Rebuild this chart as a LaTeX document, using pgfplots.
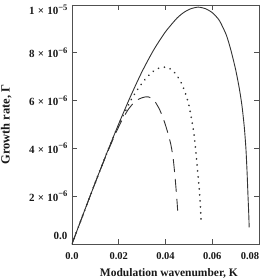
\documentclass[border=0pt]{standalone}
\usepackage{pgfplots}
\pgfplotsset{compat=1.18}
\usepackage{fontspec}
\setmainfont{Liberation Serif}
\definecolor{ln}{HTML}{333333}
\definecolor{ax}{HTML}{505050}
\newcommand{\sci}[2]{#1\hspace{3.2pt}×\hspace{3.2pt}10\raisebox{4.4pt}{\fontsize{8.5}{9}\selectfont −#2}}
\begin{document}
\begin{tikzpicture}
\path[use as bounding box] (-72pt,-35pt) rectangle (191pt,244pt);
\begin{axis}[
  at={(0,0)}, anchor=south west,
  scale only axis, width=187pt, height=239pt,
  xmin=0, xmax=0.08, ymin=0, ymax=1e-5,
  scaled x ticks=false, scaled y ticks=false,
  xtick={0,0.02,0.04,0.06,0.08},
  xticklabels={0.0,0.02,0.04,0.06,\kern-9pt 0.08\kern9pt},
  ytick={0,2e-6,4e-6,6e-6,8e-6,1e-5},
  yticklabels={\raisebox{4.5pt}[0pt][0pt]{0.0},\sci{2}{6},\sci{4}{6},\sci{6}{6},\sci{8}{6},\raisebox{-9.5pt}[0pt][0pt]{\sci{1}{5}}},
  tick align=inside, xtick pos=both, ytick pos=both,
  major tick length=5pt,
  axis line style={draw=ax, line width=0.8pt},
  tick style={draw=ax, line width=0.7pt},
  xticklabel style={font=\fontsize{10.5}{12}\selectfont\bfseries, text=black!90, yshift=-5pt},
  yticklabel style={font=\fontsize{11}{12}\selectfont\bfseries, text=black!90, xshift=-1pt},
  xlabel={Modulation wavenumber, K},
  ylabel={Growth rate, Γ},
  xlabel style={font=\fontsize{11.5}{13}\selectfont\bfseries, text=black!90, at={(axis description cs:0.518,-0.134)}, anchor=base},
  ylabel style={font=\fontsize{12.5}{14}\selectfont\bfseries, text=black!90, at={(axis description cs:-0.352,0.5)}, anchor=center},
]
% solid
\addplot[ln, line width=0.9pt, smooth, tension=0.4] coordinates {
(0,0) (0.005,1.30e-6) (0.010,2.58e-6) (0.015,3.83e-6) (0.020,5.03e-6) (0.025,6.17e-6)
(0.030,7.22e-6) (0.035,8.13e-6) (0.040,8.88e-6) (0.045,9.46e-6) (0.048,9.70e-6)
(0.051,9.85e-6) (0.054,9.91e-6) (0.057,9.85e-6) (0.060,9.68e-6) (0.063,9.36e-6)
(0.066,8.75e-6) (0.068,8.10e-6) (0.070,7.30e-6) (0.0715,6.55e-6) (0.0727,5.80e-6)
(0.0737,4.90e-6) (0.0744,4.00e-6) (0.0749,3.00e-6) (0.0753,2.00e-6) (0.0756,1.30e-6)
(0.0758,0.70e-6)
};
% dotted
\addplot[ln, line width=1.9pt, line cap=round, dash pattern=on 0.01pt off 6pt, smooth, tension=0.4] coordinates {
(0,0) (0.005,1.30e-6) (0.010,2.58e-6) (0.015,3.83e-6) (0.020,4.99e-6) (0.025,5.98e-6)
(0.028,6.46e-6) (0.031,6.86e-6) (0.034,7.17e-6) (0.037,7.35e-6) (0.040,7.40e-6)
(0.043,7.27e-6) (0.046,6.88e-6) (0.048,6.45e-6) (0.050,5.82e-6) (0.0512,5.20e-6)
(0.0522,4.60e-6) (0.0530,3.85e-6) (0.0537,3.10e-6) (0.0543,2.45e-6) (0.0548,1.80e-6)
(0.0552,1.05e-6)
};
% dashed
\addplot[ln, line width=0.9pt, dash pattern=on 13pt off 7pt, smooth, tension=0.4] coordinates {
(0,0) (0.005,1.30e-6) (0.010,2.58e-6) (0.015,3.80e-6) (0.019,4.70e-6) (0.0215,5.20e-6)
(0.0240,5.62e-6) (0.027,5.97e-6) (0.030,6.12e-6) (0.0325,6.16e-6) (0.035,6.03e-6)
(0.0375,5.62e-6) (0.0395,5.12e-6) (0.041,4.65e-6) (0.0422,4.20e-6) (0.0432,3.65e-6)
(0.0440,2.90e-6) (0.0446,2.20e-6) (0.0450,1.70e-6) (0.0452,1.40e-6)
};
\end{axis}
\end{tikzpicture}
\end{document}
